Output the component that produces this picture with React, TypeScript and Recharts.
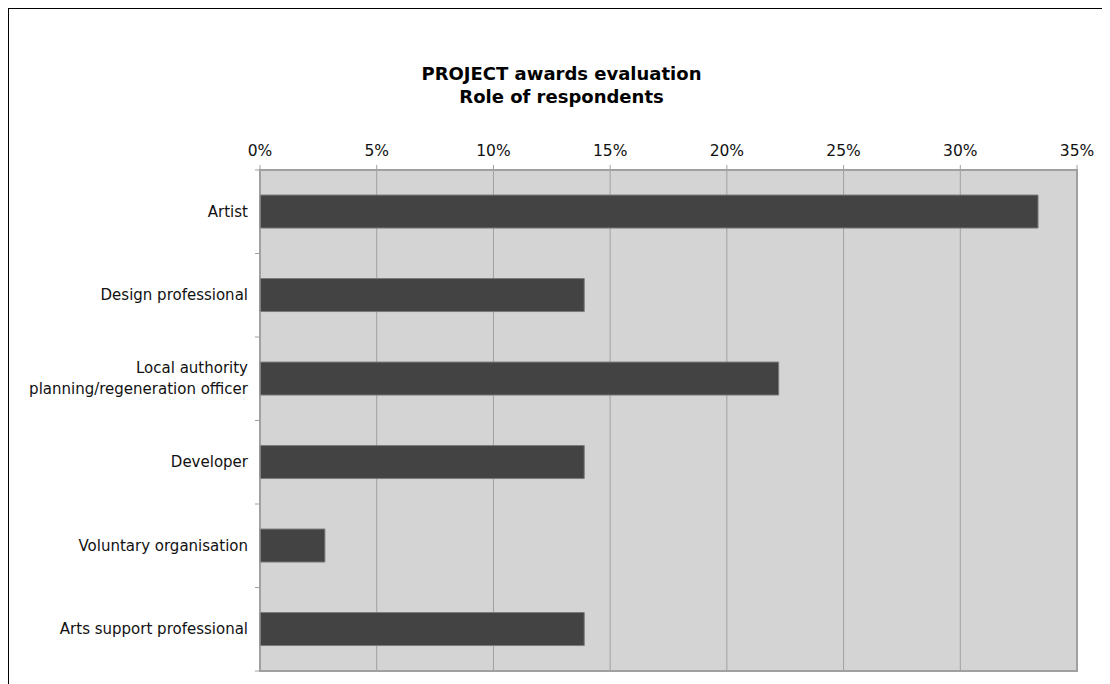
import { BarChart, Bar, XAxis, YAxis, CartesianGrid, ReferenceArea } from "recharts";

// Share of respondents by role (%)
const roles = [
  "Artist",
  "Design professional",
  "Local authority\nplanning/regeneration officer",
  "Developer",
  "Voluntary organisation",
  "Arts support professional",
];
const shares = [33.33, 13.89, 22.22, 13.89, 2.78, 13.89];
const pctTicks = [0, 5, 10, 15, 20, 25, 30, 35];

const data = roles.map((name, i) => ({ name, value: shares[i] }));

const FONT = "'DejaVu Sans', Verdana, sans-serif";
const GRID = "#a0a0a0";

function RoleTick(props: any) {
  const { x, y, payload, index } = props;
  const lines = String(payload.value).split("\n");
  const off = payload.offset || 0;
  const lh = 21;
  const start = -((lines.length - 1) * lh) / 2;
  return (
    <g>
      <line x1={x + 7} x2={x + 12} y1={y - off} y2={y - off} stroke={GRID} />
      {index === roles.length - 1 && (
        <line x1={x + 7} x2={x + 12} y1={y + off} y2={y + off} stroke={GRID} />
      )}
      <text x={x} y={y} textAnchor="end" fontSize={15} fontFamily={FONT} fill="#111">
        {lines.map((l, i) => (
          <tspan key={i} x={x} dy={i === 0 ? start + 5 : lh}>
            {l}
          </tspan>
        ))}
      </text>
    </g>
  );
}

export default function App() {
  return (
    <div
      style={{
        position: "relative",
        width: 1110,
        height: 700,
        borderTop: "2px solid #000",
        borderLeft: "2px solid #000",
        marginLeft: -1,
        marginTop: -1,
        background: "#fff",
      }}
    >
      <style>{"html,body{overflow:hidden}"}</style>
      <div
        style={{
          position: "absolute",
          top: 53,
          left: 7,
          width: 1091,
          textAlign: "center",
          fontFamily: FONT,
          fontWeight: "bold",
          fontSize: 18,
          lineHeight: "23px",
          color: "#000",
        }}
      >
        PROJECT awards evaluation
        <br />
        Role of respondents
      </div>
      <BarChart
        width={1091}
        height={700}
        data={data}
        layout="vertical"
        margin={{ top: 131, right: 23, bottom: 38, left: 0 }}
        barCategoryGap="30%"
      >
        <CartesianGrid horizontal={false} stroke={GRID} fill="#d4d4d4" fillOpacity={1} />
        <XAxis
          type="number"
          orientation="top"
          domain={[0, 35]}
          ticks={pctTicks}
          tickFormatter={(v) => `${v}%`}
          height={30}
          tickSize={5}
          tickMargin={9}
          stroke={GRID}
          tick={{ fontSize: 15.5, fontFamily: FONT, fill: "#111" }}
          interval={0}
        />
        <YAxis
          type="category"
          dataKey="name"
          width={251}
          tickLine={false}
          tickSize={0}
          tickMargin={12}
          stroke={GRID}
          tick={<RoleTick />}
          interval={0}
        />
        <ReferenceArea x1={0} x2={35} fill="none" stroke={GRID} strokeWidth={2} />
        <Bar dataKey="value" fill="#434343" stroke="#7a7a7a" strokeWidth={1} isAnimationActive={false} />
      </BarChart>
    </div>
  );
}
